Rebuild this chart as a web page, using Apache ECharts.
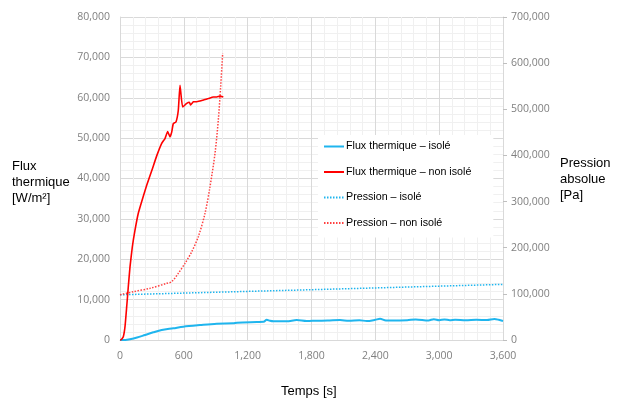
<!DOCTYPE html>
<html>
<head>
<meta charset="utf-8">
<script src="https://cdn.jsdelivr.net/npm/echarts@6/dist/echarts.min.js"></script>
<style>
html,body{margin:0;padding:0;background:#fff;}
#c{width:622px;height:403px;}
</style>
</head>
<body>
<div id="c"></div>
<script>
// ---- data (time in s) ----
const xTicks = [0, 600, 1200, 1800, 2400, 3000, 3600];

const fluxIsoleT = [0, 50, 94, 160, 235, 313, 392, 501, 595, 752, 909, 1065, 1100, 1285, 1350, 1379, 1410, 1442, 1567, 1661, 1755, 1850, 1950, 2068, 2150, 2250, 2320, 2400, 2444, 2500, 2600, 2700, 2780, 2900, 2950, 3000, 3050, 3100, 3150, 3250, 3350, 3450, 3520, 3560, 3600];
const fluxIsole  = [0, 0, 170, 600, 1240, 1900, 2475, 2900, 3300, 3700, 4040, 4120, 4300, 4450, 4500, 5030, 4750, 4620, 4620, 4950, 4700, 4780, 4800, 4950, 4750, 4900, 4700, 5000, 5250, 4800, 4850, 4900, 5100, 4850, 5150, 4900, 5100, 4900, 5000, 4900, 5000, 4950, 5200, 5000, 4700];

const fluxNonIsoleT = [0, 9, 31, 47, 63, 78, 94, 116, 141, 172, 219, 251, 298, 345, 392, 423, 448, 470, 486, 501, 526, 548, 564, 589, 627, 652, 664, 689, 720, 752, 790, 830, 877, 909, 940, 971];
const fluxNonIsole  = [0, 0, 820, 3300, 8250, 13200, 18100, 23100, 27200, 31400, 35600, 38300, 41900, 45600, 48700, 49900, 51600, 50300, 51500, 53600, 54000, 56900, 63100, 57700, 58600, 58900, 58200, 59000, 59000, 59200, 59500, 59800, 60200, 60200, 60400, 60200];

const pressIsoleT = [0, 1800, 3600];
const pressIsole  = [98000, 109000, 120500];

const pressNonIsoleT = [0, 125, 282, 439, 486, 548, 611, 674, 736, 799, 846, 893, 924, 946, 965];
const pressNonIsole  = [98000, 104700, 112000, 122800, 126400, 144500, 166200, 191300, 223800, 274500, 332200, 404600, 476700, 548900, 621300];

const seriesNames = ['Flux thermique – isolé', 'Flux thermique – non isolé', 'Pression – isolé', 'Pression – non isolé'];

function zip(t, v){ return t.map((x,i)=>[x, v[i]]); }

const chart = echarts.init(document.getElementById('c'), null, {renderer:'canvas'});
const tickFont = {color:'#808080', fontSize:10.5, fontFamily:'Open Sans, Liberation Sans, sans-serif'};
const labelFont = {fill:'#000', fontSize:13, fontFamily:'Liberation Sans, Arial, sans-serif', lineHeight:16};

chart.setOption({
  animation:false,
  backgroundColor:'#fff',
  grid:{left:120, right:119, top:17, bottom:63},
  xAxis:{
    type:'value', min:xTicks[0], max:xTicks[xTicks.length-1], interval:600,
    axisLine:{show:true, lineStyle:{color:'#d9d9d9'}},
    axisTick:{show:false},
    axisLabel:Object.assign({margin:11, formatter:v=>v.toLocaleString('en-US')}, tickFont),
    splitLine:{show:true, lineStyle:{color:'#d9d9d9', width:1}},
    minorTick:{show:false, splitNumber:5},
    minorSplitLine:{show:true, lineStyle:{color:'#f0f0f0', width:1}}
  },
  yAxis:[{
    type:'value', min:0, max:80000, interval:10000,
    axisLine:{show:true, lineStyle:{color:'#d9d9d9'}},
    axisTick:{show:false},
    axisLabel:Object.assign({margin:10, formatter:v=>v.toLocaleString('en-US')}, tickFont),
    splitLine:{show:true, lineStyle:{color:'#d9d9d9', width:1}},
    minorTick:{show:false, splitNumber:5},
    minorSplitLine:{show:true, lineStyle:{color:'#f0f0f0', width:1}}
  },{
    type:'value', min:0, max:700000, interval:100000, position:'right',
    axisLine:{show:true, lineStyle:{color:'#d9d9d9'}},
    axisTick:{show:true, length:4, lineStyle:{color:'#bfbfbf'}},
    axisLabel:Object.assign({margin:8, formatter:v=>v.toLocaleString('en-US')}, tickFont),
    splitLine:{show:false}
  }],
  legend:{
    orient:'vertical', left:318, top:135,
    backgroundColor:'#fff',
    padding:[6,22,9,5],
    itemWidth:20, itemHeight:12, itemGap:14.5,
    itemStyle:{opacity:0},
    textStyle:{color:'#000', fontSize:10.7, fontFamily:'Liberation Sans, Arial, sans-serif', padding:[0,0,0,-3]},
    data:seriesNames
  },
  series:[
    {name:seriesNames[0], type:'line', yAxisIndex:0, data:zip(fluxIsoleT, fluxIsole), symbol:'none', smooth:0.3,
     lineStyle:{color:'#1fb5ee', width:2}, itemStyle:{color:'#1fb5ee'}, z:3},
    {name:seriesNames[1], type:'line', yAxisIndex:0, data:zip(fluxNonIsoleT, fluxNonIsole), symbol:'none', smooth:0.15,
     lineStyle:{color:'#ff0000', width:1.6}, itemStyle:{color:'#ff0000'}, z:4},
    {name:seriesNames[2], type:'line', yAxisIndex:1, data:zip(pressIsoleT, pressIsole), symbol:'none',
     lineStyle:{color:'#1fb5ee', width:1.5, type:[1.5,1.5]}, itemStyle:{color:'#1fb5ee'}, z:2},
    {name:seriesNames[3], type:'line', yAxisIndex:1, data:zip(pressNonIsoleT, pressNonIsole), symbol:'none', smooth:0.3,
     lineStyle:{color:'#ff4040', width:1.5, type:[1.5,1.5]}, itemStyle:{color:'#ff4040'}, z:2}
  ],
  graphic:[
    {type:'text', left:12, top:158, style:Object.assign({text:'Flux\nthermique\n[W/m²]'}, labelFont)},
    {type:'text', left:560, top:155, style:Object.assign({text:'Pression\nabsolue\n[Pa]'}, labelFont)},
    {type:'text', left:281, top:383, style:Object.assign({text:'Temps [s]'}, labelFont)}
  ]
});
</script>
</body>
</html>
